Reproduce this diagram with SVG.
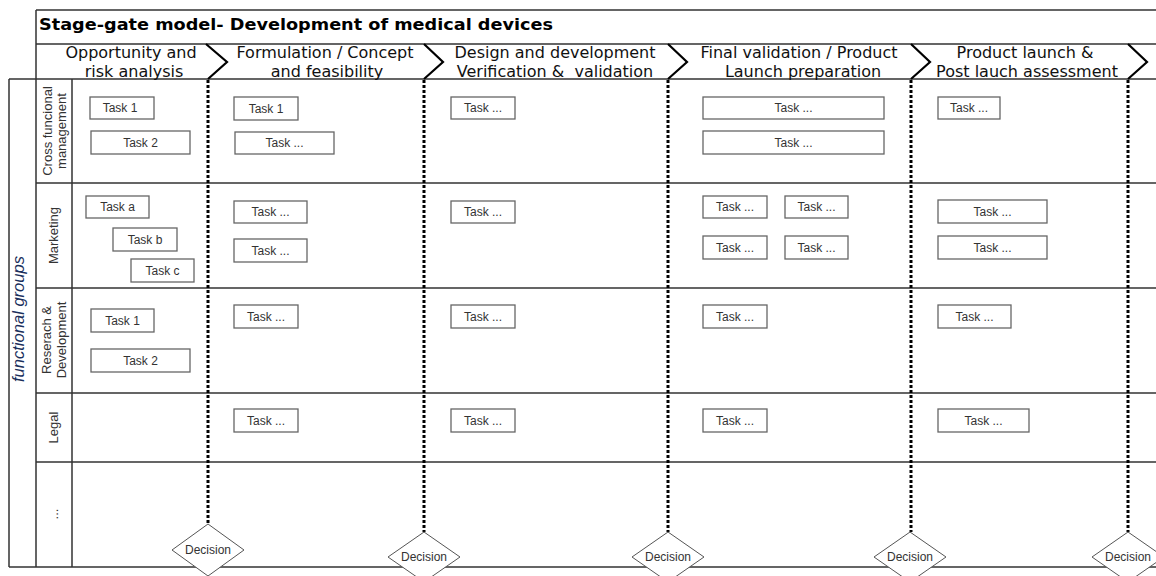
<svg xmlns="http://www.w3.org/2000/svg" width="1156" height="576" viewBox="0 0 1156 576">
  <style>
    .frame { stroke: #333; stroke-width: 1.5; fill: none; }
    .chev { stroke: #000; stroke-width: 2.2; fill: none; stroke-linejoin: miter; }
    .gate { stroke: #000; stroke-width: 3; stroke-dasharray: 3 2; fill: none; }
    .task rect { fill: #fff; stroke: #666; stroke-width: 1.3; }
    .task text { font-family: "Liberation Sans", Arial, sans-serif; font-size: 12px; fill: #333; text-anchor: middle; }
    .hdr { font-family: "DejaVu Sans", Verdana, sans-serif; font-size: 16px; fill: #111; text-anchor: middle; }
    .title { font-family: "DejaVu Sans", Verdana, sans-serif; font-size: 16px; font-weight: bold; fill: #000; }
    .lane { font-family: "Liberation Sans", Arial, sans-serif; font-size: 13px; fill: #333; text-anchor: middle; }
    .dec polygon { fill: #fff; stroke: #555; stroke-width: 1; }
    .dec text { font-family: "Liberation Sans", Arial, sans-serif; font-size: 12px; fill: #333; text-anchor: middle; }
  </style>
  <rect width="1156" height="576" fill="#fff"/>

  <!-- frame -->
  <g id="frame">
    <path class="frame" d="M36,10 H1156 M36,44 H1156 M9,79 H1156 M36,10 V567 M9,79 V567 M9,567 H1156 M72,79 V567 M36,183 H1156 M36,288 H1156 M36,393 H1156 M36,462 H1156"/>
    <text class="title" x="39" y="30" textLength="514" lengthAdjust="spacingAndGlyphs">Stage-gate model- Development of medical devices</text>
  </g>

  <!-- stage headers -->
  <g id="stages">
    <path class="chev" d="M206,44 L227,62 L208,79"/>
    <path class="chev" d="M424,44 L443,62 L424,79"/>
    <path class="chev" d="M668,44 L687,62 L668,79"/>
    <path class="chev" d="M911,44 L930,62 L911,79"/>
    <path class="chev" d="M1128,44 L1147,62 L1128,79"/>
    <text class="hdr" x="131" y="58">Opportunity and</text>
    <text class="hdr" x="134" y="77">risk analysis</text>
    <text class="hdr" x="325" y="58">Formulation / Concept</text>
    <text class="hdr" x="327" y="77">and feasibility</text>
    <text class="hdr" x="555" y="58">Design and development</text>
    <text class="hdr" x="555" y="77">Verification &amp;&#160; validation</text>
    <text class="hdr" x="799" y="58">Final validation / Product</text>
    <text class="hdr" x="803" y="77">Launch preparation</text>
    <text class="hdr" x="1025" y="58">Product launch &amp;</text>
    <text class="hdr" x="1027" y="77">Post lauch assessment</text>
  </g>

  <!-- lane labels -->
  <g id="lanes">
    <text x="24" y="319" transform="rotate(-90 24 319)" font-family="'Liberation Sans', Arial, sans-serif" font-style="italic" font-size="17" fill="#1a2f5c" text-anchor="middle" textLength="126" lengthAdjust="spacingAndGlyphs">functional groups</text>
    <text class="lane" transform="translate(51.5,131) rotate(-90)">Cross funcional</text>
    <text class="lane" transform="translate(66,131) rotate(-90)">management</text>
    <text class="lane" transform="translate(58,235.5) rotate(-90)">Marketing</text>
    <text class="lane" transform="translate(51,340) rotate(-90)">Reserach &amp;</text>
    <text class="lane" transform="translate(65.5,340) rotate(-90)">Development</text>
    <text class="lane" transform="translate(58,427.5) rotate(-90)">Legal</text>
    <text class="lane" transform="translate(58,514) rotate(-90)">...</text>
  </g>

  <!-- gates (connectors) -->
  <g id="connectors">
    <line class="gate" x1="208" y1="80" x2="208" y2="524"/>
    <line class="gate" x1="424" y1="80" x2="424" y2="532"/>
    <line class="gate" x1="668" y1="80" x2="668" y2="532"/>
    <line class="gate" x1="911" y1="80" x2="911" y2="532"/>
    <line class="gate" x1="1128" y1="80" x2="1128" y2="532"/>
  </g>

  <!-- decisions -->
  <g id="decision1" class="dec"><polygon points="208,524 244,550 208,576 172,550"/><text x="208" y="554">Decision</text></g>
  <g id="decision2" class="dec"><polygon points="424,532 460,557 424,582 388,557"/><text x="424" y="561">Decision</text></g>
  <g id="decision3" class="dec"><polygon points="668,532 704,557 668,582 632,557"/><text x="668" y="561">Decision</text></g>
  <g id="decision4" class="dec"><polygon points="910,532 946,557 910,582 874,557"/><text x="910" y="561">Decision</text></g>
  <g id="decision5" class="dec"><polygon points="1128,532 1164,557 1128,582 1092,557"/><text x="1128" y="561">Decision</text></g>

  <!-- tasks: cross functional -->
  <g id="cf-t1" class="task"><rect x="90" y="97" width="64" height="22"/><text x="120" y="112">Task 1</text></g>
  <g id="cf-t2" class="task"><rect x="91" y="131" width="99" height="23"/><text x="140.5" y="147">Task 2</text></g>
  <g id="cf-c2-1" class="task"><rect x="234" y="97" width="64" height="23"/><text x="266" y="113">Task 1</text></g>
  <g id="cf-c2-2" class="task"><rect x="235" y="132" width="99" height="22"/><text x="284.5" y="147">Task ...</text></g>
  <g id="cf-c3-1" class="task"><rect x="451" y="97" width="64" height="22"/><text x="483" y="112">Task ...</text></g>
  <g id="cf-c4-1" class="task"><rect x="703" y="97" width="181" height="22"/><text x="793.5" y="112">Task ...</text></g>
  <g id="cf-c4-2" class="task"><rect x="703" y="131" width="181" height="23"/><text x="793.5" y="147">Task ...</text></g>
  <g id="cf-c5-1" class="task"><rect x="938" y="97" width="62" height="22"/><text x="969" y="112">Task ...</text></g>

  <!-- tasks: marketing -->
  <g id="mk-ta" class="task"><rect x="86" y="196" width="63" height="22"/><text x="117.5" y="211">Task a</text></g>
  <g id="mk-tb" class="task"><rect x="113" y="228" width="64" height="23"/><text x="145" y="244">Task b</text></g>
  <g id="mk-tc" class="task"><rect x="131" y="259" width="63" height="23"/><text x="162.5" y="275">Task c</text></g>
  <g id="mk-c2-1" class="task"><rect x="234" y="201" width="73" height="22"/><text x="270.5" y="216">Task ...</text></g>
  <g id="mk-c2-2" class="task"><rect x="234" y="239" width="73" height="23"/><text x="270.5" y="255">Task ...</text></g>
  <g id="mk-c3-1" class="task"><rect x="451" y="201" width="64" height="22"/><text x="483" y="216">Task ...</text></g>
  <g id="mk-c4-1" class="task"><rect x="703" y="196" width="64" height="22"/><text x="735" y="211">Task ...</text></g>
  <g id="mk-c4-2" class="task"><rect x="785" y="196" width="63" height="22"/><text x="816.5" y="211">Task ...</text></g>
  <g id="mk-c4-3" class="task"><rect x="703" y="236" width="64" height="23"/><text x="735" y="252">Task ...</text></g>
  <g id="mk-c4-4" class="task"><rect x="785" y="236" width="63" height="23"/><text x="816.5" y="252">Task ...</text></g>
  <g id="mk-c5-1" class="task"><rect x="938" y="200" width="109" height="23"/><text x="992.5" y="216">Task ...</text></g>
  <g id="mk-c5-2" class="task"><rect x="938" y="236" width="109" height="23"/><text x="992.5" y="252">Task ...</text></g>

  <!-- tasks: R&D -->
  <g id="rd-t1" class="task"><rect x="91" y="309" width="63" height="23"/><text x="122.5" y="325">Task 1</text></g>
  <g id="rd-t2" class="task"><rect x="91" y="349" width="99" height="23"/><text x="140.5" y="365">Task 2</text></g>
  <g id="rd-c2-1" class="task"><rect x="234" y="305" width="64" height="23"/><text x="266" y="321">Task ...</text></g>
  <g id="rd-c3-1" class="task"><rect x="451" y="305" width="64" height="23"/><text x="483" y="321">Task ...</text></g>
  <g id="rd-c4-1" class="task"><rect x="703" y="305" width="64" height="23"/><text x="735" y="321">Task ...</text></g>
  <g id="rd-c5-1" class="task"><rect x="938" y="305" width="73" height="23"/><text x="974.5" y="321">Task ...</text></g>

  <!-- tasks: legal -->
  <g id="lg-c2-1" class="task"><rect x="234" y="409" width="64" height="23"/><text x="266" y="425">Task ...</text></g>
  <g id="lg-c3-1" class="task"><rect x="451" y="409" width="64" height="23"/><text x="483" y="425">Task ...</text></g>
  <g id="lg-c4-1" class="task"><rect x="703" y="409" width="64" height="23"/><text x="735" y="425">Task ...</text></g>
  <g id="lg-c5-1" class="task"><rect x="938" y="409" width="91" height="23"/><text x="983.5" y="425">Task ...</text></g>
</svg>
